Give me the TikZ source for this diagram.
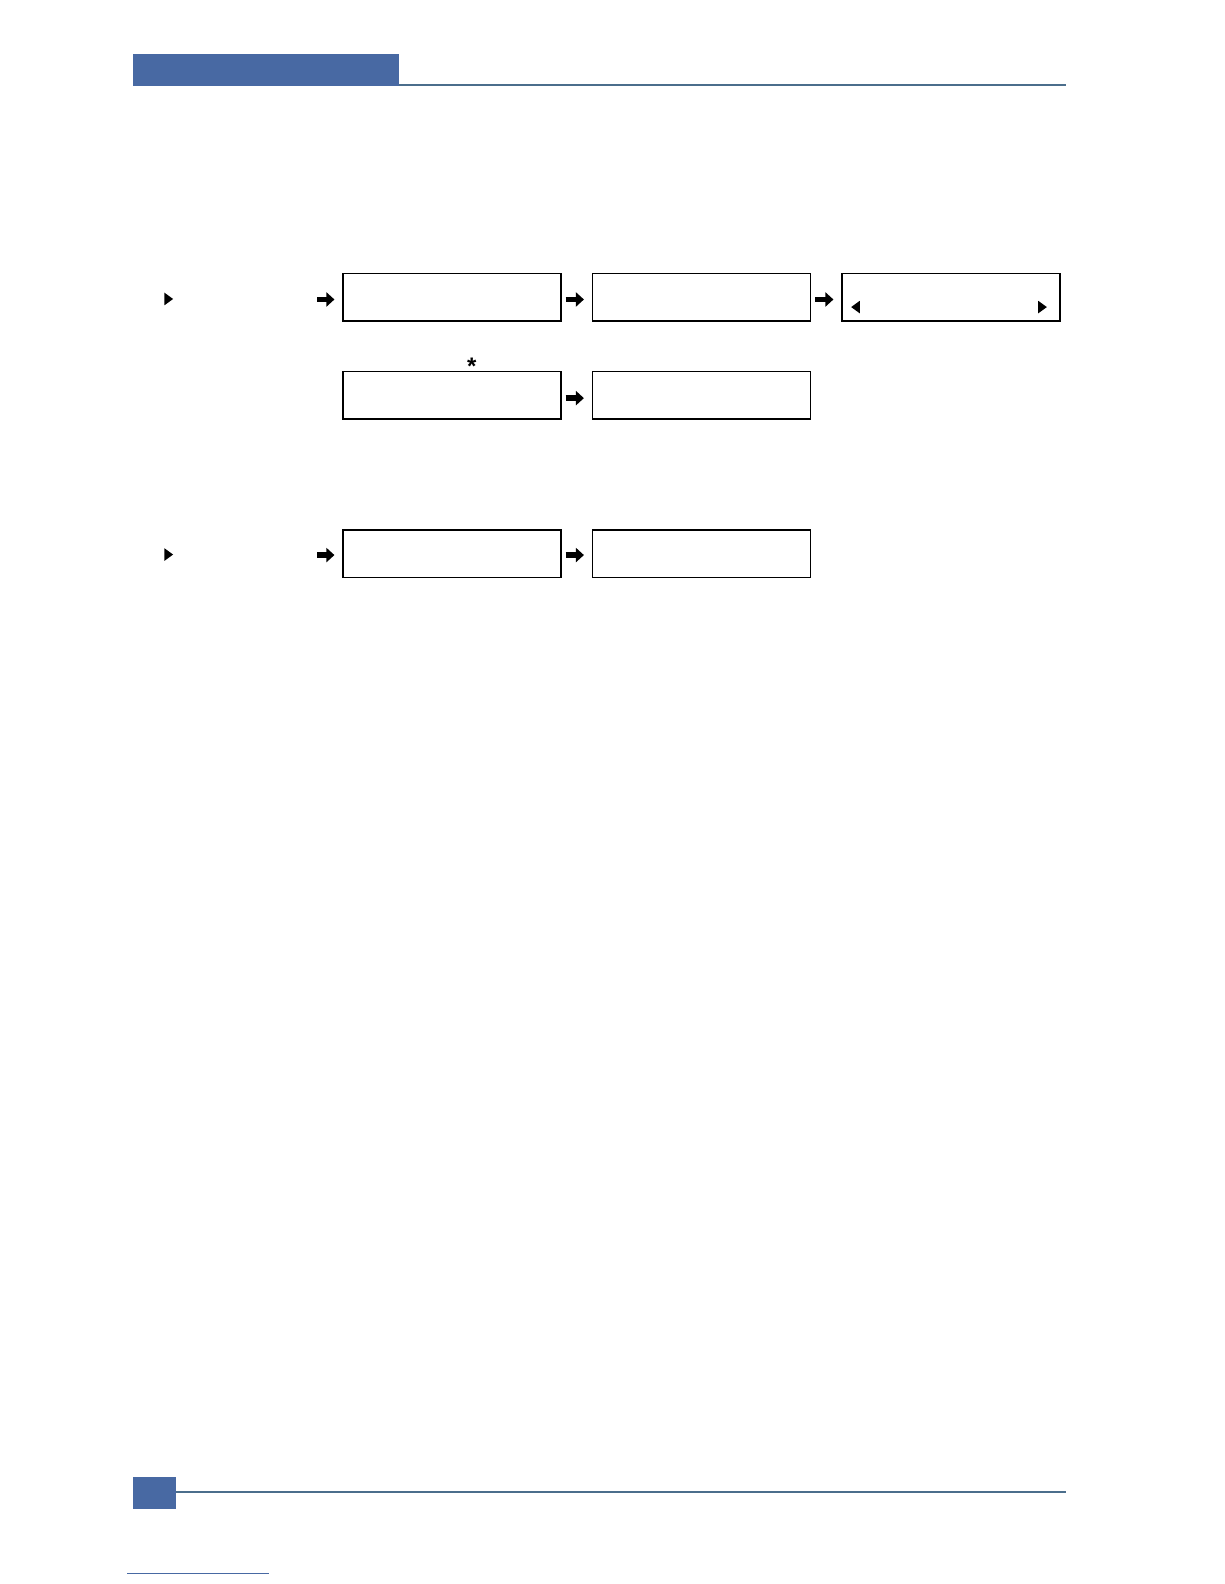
\documentclass[tikz,border=0pt]{standalone}
\usepackage{fontspec}
\setmainfont{Liberation Sans}
\usetikzlibrary{arrows.meta,shapes.geometric}
\definecolor{hdrblue}{RGB}{72,105,163}
\definecolor{rulecol}{RGB}{75,110,140}
\begin{document}
\begin{tikzpicture}[x=1.0101bp,y=-1.0101bp,
  menubox/.style={draw=black,line width=1.3bp,minimum width=218bp,minimum height=47.5bp,inner sep=0pt,anchor=north west},
  blockarrow/.style={line width=5.5bp,-{Triangle[length=8bp,width=14bp]},shorten <=4bp,shorten >=8bp},
  tri/.style={isosceles triangle,fill=black,draw=none,inner sep=0pt,minimum width=12.5bp,minimum height=8.5bp,isosceles triangle apex angle=72},
  hdr/.style={fill=hdrblue,draw=none},
  rule/.style={draw=rulecol,line width=1.3bp}]
\useasboundingbox (0,0) rectangle (1211.76,1568.16);
% header
\fill[hdr] (132,53) rectangle (395,85);
\draw[rule] (395,84.3) -- (1055,84.3);
% footer
\fill[hdr] (132,1462) rectangle (174,1494);
\draw[rule] (174,1477) -- (1055,1477);
\draw[draw=hdrblue,line width=0.6bp] (126,1558) -- (266,1558);
% boxes
\node[menubox] (b1) at (339,270) {};
\node[menubox] (b2) at (586,270) {};
\node[menubox] (b3) at (833,270) {};
\node[menubox] (b4) at (339,367) {};
\node[menubox] (b5) at (586,367) {};
\node[menubox] (b6) at (339,524) {};
\node[menubox] (b7) at (586,524) {};
% small triangles
\node[tri,shape border rotate=0] (t1) at (166,296) {};
\node[tri,shape border rotate=0] (t2) at (166,549) {};
\node[tri,shape border rotate=180] (t3) at (848,304) {};
\node[tri,shape border rotate=0] (t4) at (1031,304) {};
% asterisk
\node[font=\fontsize{24}{24}\selectfont\bfseries,inner sep=0pt] (ast) at (467,363) {*};
% arrow start points
\coordinate (s1) at (310,296.5);
\coordinate (s2) at (310,549.5);
% block arrows
\draw[blockarrow] (s1) -- (b1.west |- s1);
\draw[blockarrow] (b1.east |- s1) -- (b2.west |- s1);
\draw[blockarrow] (b2.east |- s1) -- (b3.west |- s1);
\draw[blockarrow] (b4.east) ++(0,3) coordinate (r2) -- (b5.west |- r2);
\draw[blockarrow] (s2) -- (b6.west |- s2);
\draw[blockarrow] (b6.east |- s2) -- (b7.west |- s2);
\end{tikzpicture}
\end{document}
